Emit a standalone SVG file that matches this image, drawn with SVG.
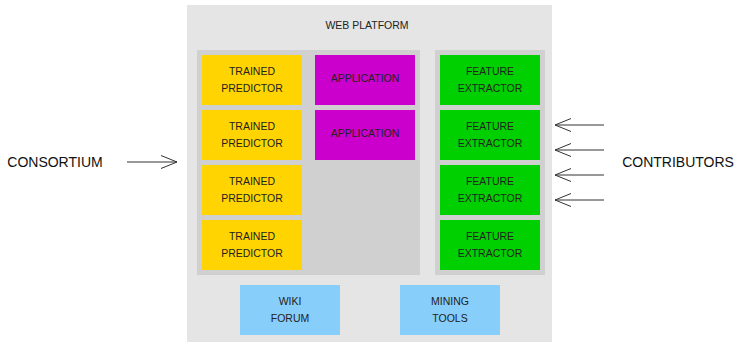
<svg xmlns="http://www.w3.org/2000/svg" width="737" height="342" viewBox="0 0 737 342">
<defs>
<style>
.lbl{font-family:"Liberation Sans",Arial,sans-serif;font-size:10.5px;fill:#222;text-anchor:middle}
.big{font-family:"Liberation Sans",Arial,sans-serif;font-size:14px;fill:#111;text-anchor:middle}
.tp{fill:#FFD400}
.app{fill:#CC00CC}
.fe{fill:#00D000}
.tool{fill:#87CEFA}
.arr{stroke:#333;stroke-width:1;fill:none}
</style>
<marker id="ah" viewBox="0 0 17 14" refX="16.5" refY="7" markerWidth="17" markerHeight="14" markerUnits="userSpaceOnUse" orient="auto">
<path d="M0.5,0.5 L16.5,7 L0.5,13.5" fill="none" stroke="#333" stroke-width="1"/>
</marker>
</defs>
<rect width="737" height="342" fill="#fff"/>
<g id="web-platform">
<rect x="187" y="5" width="365" height="340" fill="#E5E5E5"/>
<text class="lbl" x="367" y="29">WEB PLATFORM</text>
</g>
<g id="left-group"><rect x="197" y="50" width="223" height="225" fill="#D0D0D0"/></g>
<g id="right-group"><rect x="435" y="50" width="110" height="225" fill="#D0D0D0"/></g>
<g id="tp1"><rect class="tp" x="202" y="55" width="100" height="50"/><text class="lbl" x="252" y="75">TRAINED</text><text class="lbl" x="252" y="92">PREDICTOR</text></g>
<g id="tp2"><rect class="tp" x="202" y="110" width="100" height="50"/><text class="lbl" x="252" y="130">TRAINED</text><text class="lbl" x="252" y="147">PREDICTOR</text></g>
<g id="tp3"><rect class="tp" x="202" y="165" width="100" height="50"/><text class="lbl" x="252" y="185">TRAINED</text><text class="lbl" x="252" y="202">PREDICTOR</text></g>
<g id="tp4"><rect class="tp" x="202" y="220" width="100" height="50"/><text class="lbl" x="252" y="240">TRAINED</text><text class="lbl" x="252" y="257">PREDICTOR</text></g>
<g id="app1"><rect class="app" x="315" y="55" width="100" height="50"/><text class="lbl" x="365" y="82">APPLICATION</text></g>
<g id="app2"><rect class="app" x="315" y="110" width="100" height="50"/><text class="lbl" x="365" y="137">APPLICATION</text></g>
<g id="fe1"><rect class="fe" x="440" y="55" width="100" height="50"/><text class="lbl" x="490" y="75">FEATURE</text><text class="lbl" x="490" y="92">EXTRACTOR</text></g>
<g id="fe2"><rect class="fe" x="440" y="110" width="100" height="50"/><text class="lbl" x="490" y="130">FEATURE</text><text class="lbl" x="490" y="147">EXTRACTOR</text></g>
<g id="fe3"><rect class="fe" x="440" y="165" width="100" height="50"/><text class="lbl" x="490" y="185">FEATURE</text><text class="lbl" x="490" y="202">EXTRACTOR</text></g>
<g id="fe4"><rect class="fe" x="440" y="220" width="100" height="50"/><text class="lbl" x="490" y="240">FEATURE</text><text class="lbl" x="490" y="257">EXTRACTOR</text></g>
<g id="wiki"><rect class="tool" x="240" y="285" width="100" height="50"/><text class="lbl" x="290" y="305">WIKI</text><text class="lbl" x="290" y="322">FORUM</text></g>
<g id="mining"><rect class="tool" x="400" y="285" width="100" height="50"/><text class="lbl" x="450" y="305">MINING</text><text class="lbl" x="450" y="322">TOOLS</text></g>
<g id="consortium"><text class="big" x="55" y="167">CONSORTIUM</text></g>
<g id="contributors"><text class="big" x="678" y="167">CONTRIBUTORS</text></g>
<g id="connectors">
<line class="arr" x1="127" y1="162" x2="177" y2="162" marker-end="url(#ah)"/>
<line class="arr" x1="604" y1="125" x2="555" y2="125" marker-end="url(#ah)"/>
<line class="arr" x1="604" y1="150" x2="555" y2="150" marker-end="url(#ah)"/>
<line class="arr" x1="604" y1="175" x2="555" y2="175" marker-end="url(#ah)"/>
<line class="arr" x1="604" y1="200" x2="555" y2="200" marker-end="url(#ah)"/>
</g>
</svg>
